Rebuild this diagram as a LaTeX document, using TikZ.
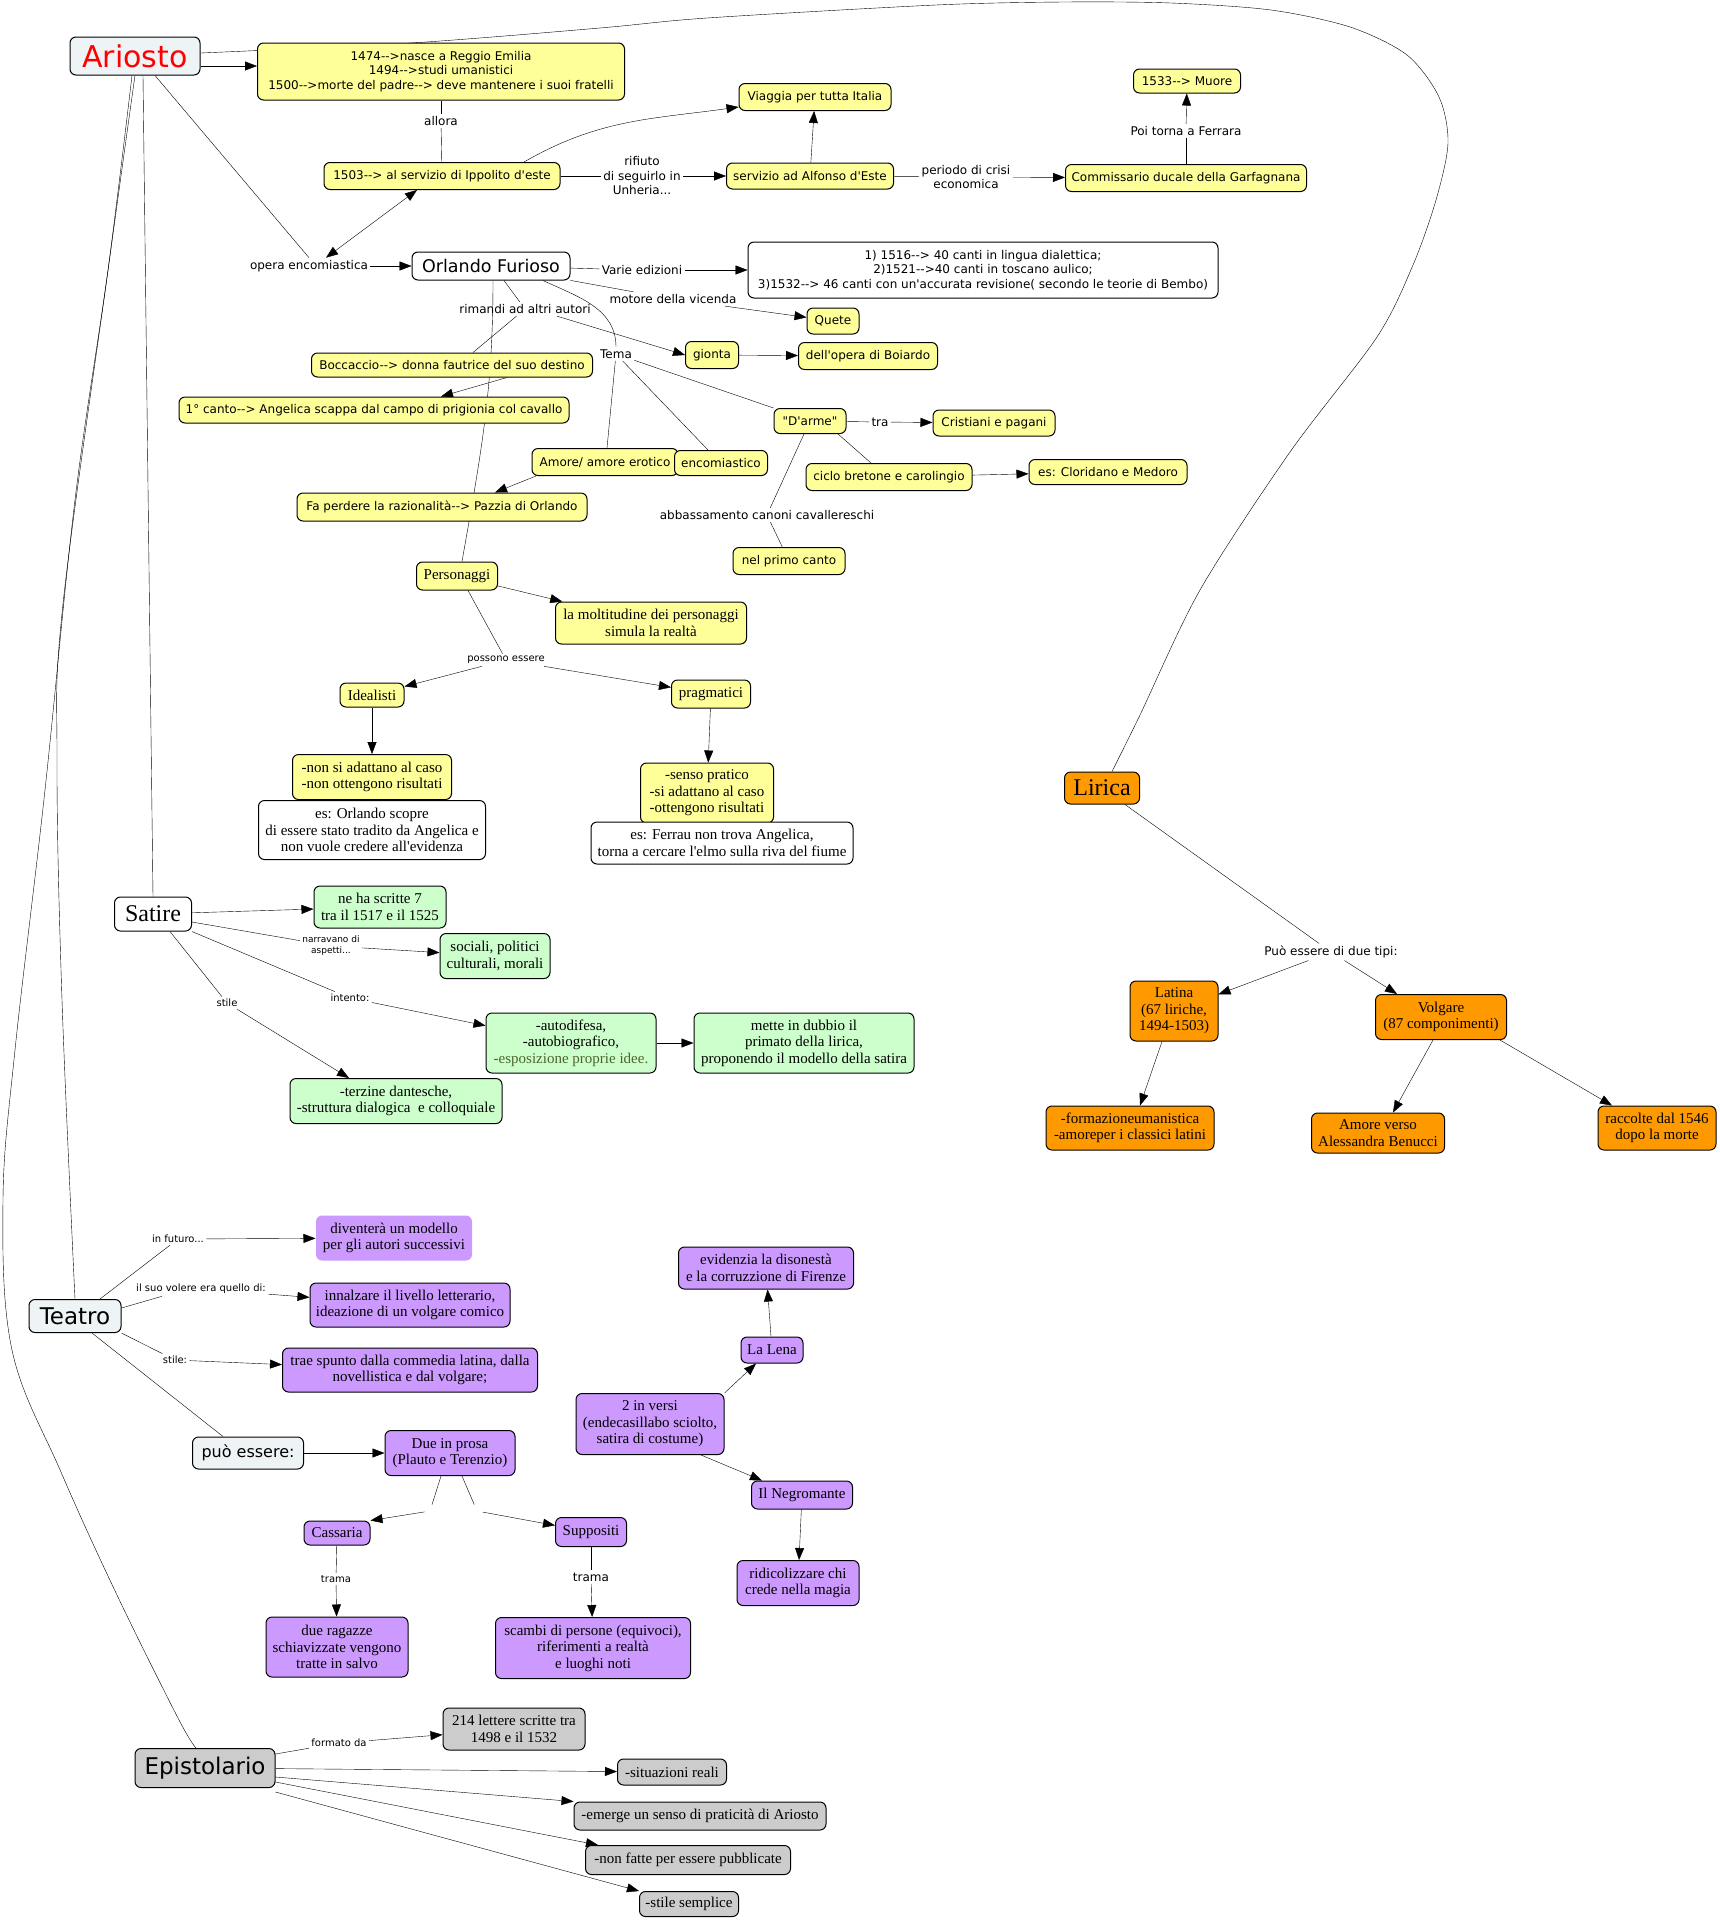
\documentclass[tikz,border=0pt]{standalone}
\usepackage{fontspec}
\setmainfont{Liberation Serif}[Ligatures=TeXOff]
\setsansfont{DejaVu Sans}[Ligatures=TeXOff]
\usetikzlibrary{arrows.meta,backgrounds}

\definecolor{cGiallo}{RGB}{255,255,153}
\definecolor{cVerde}{RGB}{204,255,204}
\definecolor{cArancio}{RGB}{255,153,0}
\definecolor{cViola}{RGB}{204,153,255}
\definecolor{cGrigio}{RGB}{204,204,204}
\definecolor{cChiaro}{RGB}{238,243,246}
\definecolor{cOliva}{RGB}{80,100,45}

\tikzset{
  concetto/.style={draw, rounded corners=6pt, align=center, inner xsep=4pt, inner ysep=2pt},
  giallo/.style={concetto, fill=cGiallo, font=\sffamily\fontsize{12}{14.5}\selectfont},
  giallos/.style={concetto, fill=cGiallo, font=\fontsize{15}{16.5}\selectfont},
  bianco/.style={concetto, fill=white, font=\sffamily\fontsize{12}{14.5}\selectfont},
  biancos/.style={concetto, fill=white, font=\fontsize{15}{16.5}\selectfont},
  verde/.style={concetto, fill=cVerde, font=\fontsize{15}{16.5}\selectfont},
  arancio/.style={concetto, fill=cArancio, font=\fontsize{15}{16.5}\selectfont},
  viola/.style={concetto, fill=cViola, font=\fontsize{15}{16.5}\selectfont},
  grigio/.style={concetto, fill=cGrigio, font=\fontsize{15}{16.5}\selectfont},
  radice/.style={concetto, fill=cChiaro, font=\sffamily\fontsize{23}{26}\selectfont},
  etich/.style={font=\sffamily\fontsize{12}{14.5}\selectfont, align=center, inner sep=2pt},
  etichp/.style={font=\sffamily\fontsize{10}{12}\selectfont, align=center, inner sep=2pt},
  vuoto/.style={inner sep=0pt, minimum width=10, minimum height=12},
}

\begin{document}
\begin{tikzpicture}[x=1pt, y=-1pt, >={Triangle[length=12pt,width=9pt]}, line width=1pt]
    \begin{scope}[on background layer]
        \fill[white] (0,0) rectangle (1720,1923);
    \end{scope}
    \useasboundingbox (0,0) rectangle (1720,1923);

    % Ariosto e la sua vita
    \node[radice, font=\sffamily\fontsize{30}{34}\selectfont, text=red, minimum width=130, minimum height=38] (ariosto) at (135, 56) {Ariosto};
    \node[giallo, minimum width=367, minimum height=57] (bio) at (441, 71.5) {1474-->nasce a Reggio Emilia\\1494-->studi umanistici\\1500-->morte del padre--> deve mantenere i suoi fratelli};
    \node[etich] (allora) at (441, 121) {allora};
    \node[giallo, minimum width=236, minimum height=27] (p1503) at (442, 176) {1503--> al servizio di Ippolito d'este};
    \node[etich] (rifiuto) at (642, 176) {rifiuto\\di seguirlo in\\Unheria...};
    \node[giallo, minimum width=167, minimum height=26] (alfonso) at (810, 176) {servizio ad Alfonso d'Este};
    \node[giallo, minimum width=152, minimum height=27] (viaggia) at (815, 97) {Viaggia per tutta Italia};
    \node[etich] (crisi) at (966, 177) {periodo di crisi\\economica};
    \node[giallo, minimum width=241, minimum height=27] (garfagnana) at (1186, 178) {Commissario ducale della Garfagnana};
    \node[etich] (ferrara) at (1186, 131) {Poi torna a Ferrara};
    \node[giallo, minimum width=107, minimum height=24] (muore) at (1187, 81) {1533--> Muore};

    % Orlando Furioso
    \node[etich] (operaenc) at (309, 266) {opera encomiastica};
    \node[bianco, font=\sffamily\fontsize{17.5}{20}\selectfont, minimum width=158, minimum height=28] (orlando) at (491, 266) {Orlando Furioso};
    \node[etich] (varie) at (642, 270) {Varie edizioni};
    \node[bianco, minimum width=470, minimum height=56] (edizioni) at (983, 270) {1) 1516--> 40 canti in lingua dialettica;\\2)1521-->40 canti in toscano aulico;\\3)1532--> 46 canti con un'accurata revisione( secondo le teorie di Bembo)};
    \node[etich] (motore) at (673, 299) {motore della vicenda};
    \node[giallo, minimum width=52, minimum height=26] (quete) at (833, 321) {Quete};
    \node[etich] (rimandi) at (525, 309) {rimandi ad altri autori};
    \node[giallo, minimum width=281, minimum height=24] (boccaccio) at (452, 365) {Boccaccio--> donna fautrice del suo destino};
    \node[giallo, minimum width=390, minimum height=26] (canto) at (374, 410) {1° canto--> Angelica scappa dal campo di prigionia col cavallo};
    \node[giallo, minimum width=53, minimum height=27] (gionta) at (712, 355) {gionta};
    \node[giallo, minimum width=139, minimum height=27] (boiardo) at (868, 356) {dell'opera di Boiardo};
    \node[etich] (tema) at (616, 354) {Tema};
    \node[giallo, minimum width=72, minimum height=25] (darme) at (810, 421) {"D'arme"};
    \node[etich] (tra) at (880, 422) {tra};
    \node[giallo, minimum width=122, minimum height=26] (cristiani) at (994, 423) {Cristiani e pagani};
    \node[giallo, minimum width=166, minimum height=27] (ciclo) at (889, 477) {ciclo bretone e carolingio};
    \node[giallo, minimum width=158, minimum height=25] (cloridano) at (1108, 472) {es: Cloridano e Medoro};
    \node[etich] (abbassamento) at (767, 515) {abbassamento canoni cavallereschi};
    \node[giallo, minimum width=112, minimum height=27] (primocanto) at (789, 561) {nel primo canto};
    \node[giallo, minimum width=146, minimum height=27] (amore) at (605, 462) {Amore/ amore erotico};
    \node[giallo, minimum width=93, minimum height=25] (encomiastico) at (721, 463) {encomiastico};
    \node[giallo, minimum width=290, minimum height=28] (pazzia) at (442, 507) {Fa perdere la razionalità--> Pazzia di Orlando};

    % Personaggi
    \node[giallos, minimum width=81, minimum height=28] (personaggi) at (457, 576) {Personaggi};
    \node[giallos, minimum width=191, minimum height=42] (moltitudine) at (651, 623) {la moltitudine dei personaggi\\simula la realtà};
    \node[etichp] (possono) at (506, 660) {possono essere};
    \node[giallos, minimum width=64, minimum height=24] (idealisti) at (372, 695) {Idealisti};
    \node[giallos, minimum width=79, minimum height=28] (pragmatici) at (711, 694) {pragmatici};
    \node[giallos, minimum width=159, minimum height=45] (nonadattano) at (372, 777) {-non si adattano al caso\\-non ottengono risultati};
    \node[biancos, minimum width=227, minimum height=59] (esorlando) at (372, 830) {es: Orlando scopre\\di essere stato tradito da Angelica e\\non vuole credere all'evidenza};
    \node[giallos, minimum width=133, minimum height=60] (senso) at (707, 793) {-senso pratico\\-si adattano al caso\\-ottengono risultati};
    \node[biancos, minimum width=262, minimum height=42] (esferrau) at (722, 843) {es: Ferrau non trova Angelica,\\torna a cercare l'elmo sulla riva del fiume};

    % Satire
    \node[biancos, font=\fontsize{24}{27}\selectfont, minimum width=77, minimum height=34] (satire) at (153, 914) {Satire};
    \node[verde, minimum width=132, minimum height=42] (scritte) at (380, 907) {ne ha scritte 7\\tra il 1517 e il 1525};
    \node[etichp, font=\sffamily\fontsize{9}{11}\selectfont] (narravano) at (331, 946) {narravano di\\aspetti...};
    \node[verde, minimum width=110, minimum height=45] (sociali) at (495, 956) {sociali, politici\\culturali, morali};
    \node[etichp] (intento) at (350, 998) {intento:};
    \node[verde, minimum width=170, minimum height=60] (autodifesa) at (571, 1043) {-autodifesa,\\-autobiografico,\\\textcolor{cOliva}{-esposizione proprie idee.}};
    \node[verde, minimum width=220, minimum height=60] (dubbio) at (804, 1043) {mette in dubbio il\\primato della lirica,\\proponendo il modello della satira};
    \node[etichp] (stile) at (227, 1003) {stile};
    \node[verde, minimum width=212, minimum height=45] (terzine) at (396, 1101) {-terzine dantesche,\\-struttura dialogica\ \ e colloquiale};

    % Lirica
    \node[arancio, font=\fontsize{24}{27}\selectfont, minimum width=75, minimum height=32] (lirica) at (1102, 788) {Lirica};
    \node[etich] (duetipi) at (1331, 952) {Può essere di due tipi:};
    \node[arancio, minimum width=88, minimum height=60] (latina) at (1174, 1011) {Latina\\(67 liriche,\\1494-1503)};
    \node[arancio, minimum width=131, minimum height=45] (volgare) at (1441, 1017) {Volgare\\(87 componimenti)};
    \node[arancio, minimum width=168, minimum height=44] (formazione) at (1130, 1128) {-formazioneumanistica\\-amoreper i classici latini};
    \node[arancio, minimum width=133, minimum height=40] (amoreverso) at (1378, 1133) {Amore verso\\Alessandra Benucci};
    \node[arancio, minimum width=118, minimum height=44] (raccolte) at (1657, 1128) {raccolte dal 1546\\dopo la morte};

    % Teatro
    \node[radice, minimum width=92, minimum height=33] (teatro) at (75, 1316) {Teatro};
    \node[etichp] (futuro) at (178, 1239) {in futuro...};
    \node[viola, draw=none, minimum width=156, minimum height=45] (modello) at (394, 1238) {diventerà un modello\\per gli autori successivi};
    \node[etichp] (volere) at (201, 1289) {il suo volere era quello di:};
    \node[viola, minimum width=200, minimum height=44] (innalzare) at (410, 1305) {innalzare il livello letterario,\\ideazione di un volgare comico};
    \node[etichp] (stileteatro) at (175, 1360) {stile:};
    \node[viola, minimum width=255, minimum height=44] (spunto) at (410, 1370) {trae spunto dalla commedia latina, dalla\\novellistica e dal volgare;};
    \node[radice, font=\sffamily\fontsize{16}{19}\selectfont, minimum width=111, minimum height=32] (puoessere) at (248, 1453) {può essere:};
    \node[viola, minimum width=130, minimum height=45] (prosa) at (450, 1453) {Due in prosa\\(Plauto e Terenzio)};
    \node[vuoto] (vuotoS) at (430, 1511) {};
    \node[vuoto] (vuotoD) at (477, 1511) {};
    \node[viola, minimum width=66, minimum height=24] (cassaria) at (337, 1533) {Cassaria};
    \node[viola, minimum width=71, minimum height=29] (suppositi) at (591, 1532) {Suppositi};
    \node[etichp] (tramaC) at (336, 1579) {trama};
    \node[etich] (tramaS) at (591, 1577) {trama};
    \node[viola, minimum width=142, minimum height=60] (ragazze) at (337, 1647) {due ragazze\\schiavizzate vengono\\tratte in salvo};
    \node[viola, minimum width=195, minimum height=61] (scambi) at (593, 1648) {scambi di persone (equivoci),\\riferimenti a realtà\\e luoghi noti};
    \node[viola, minimum width=148, minimum height=61] (versi) at (650, 1424) {2 in versi\\(endecasillabo sciolto,\\satira di costume)};
    \node[viola, minimum width=62, minimum height=26] (lena) at (772, 1350) {La Lena};
    \node[viola, minimum width=175, minimum height=42] (evidenzia) at (766, 1268) {evidenzia la disonestà\\e la corruzzione di Firenze};
    \node[viola, minimum width=101, minimum height=28] (negromante) at (802, 1495) {Il Negromante};
    \node[viola, minimum width=122, minimum height=45] (ridicolizzare) at (798, 1583) {ridicolizzare chi\\crede nella magia};

    % Epistolario
    \node[radice, fill=cGrigio, minimum width=140, minimum height=39] (epistolario) at (205, 1768) {Epistolario};
    \node[etichp] (formato) at (339, 1743) {formato da};
    \node[grigio, minimum width=142, minimum height=42] (lettere) at (514, 1729) {214 lettere scritte tra\\1498 e il 1532};
    \node[grigio, minimum width=109, minimum height=26] (situazioni) at (672, 1772) {-situazioni reali};
    \node[grigio, minimum width=252, minimum height=28] (emerge) at (700, 1816) {-emerge un senso di praticità di Ariosto};
    \node[grigio, minimum width=205, minimum height=29] (nonfatte) at (688, 1860) {-non fatte per essere pubblicate};
    \node[grigio, minimum width=99, minimum height=25] (semplice) at (689, 1904) {-stile semplice};

    % collegamenti (sotto i riquadri)
    \begin{scope}[on background layer]
        \coordinate (lirA) at ([yshift=3pt]ariosto.east);
        \coordinate (lirB) at ([xshift=10pt]lirica.north);
        \coordinate (epiA) at ([xshift=-3pt]ariosto.south);
        \coordinate (epiB) at ([xshift=-9pt]epistolario.north);
        \draw plot[smooth, tension=0.5] coordinates {(lirA) (411,43) (600,28) (707,18) (936,5) (1064,2) (1171,3) (1271,10) (1350,27) (1407,55) (1439,97) (1448,143) (1436,200) (1413,265) (1377,337) (1290,452) (1200,590) (1140,715) (lirB)};
        \draw plot[smooth, tension=0.6] coordinates {(ariosto.south) (110,256) (63,604) (57,760) (62,1000) (teatro.north)};
        \draw plot[smooth, tension=0.6] coordinates {(epiA) (108,270) (75,500) (45,790) (15,1050) (3,1200) (12,1350) (61,1472) (117,1595) (178,1718) (epiB)};
        \draw ([xshift=8pt]ariosto.south) -- (satire.north);
        \draw[->] ([yshift=-10pt]ariosto.east) -- ([yshift=5.5pt]bio.west);
        \draw ([xshift=20pt]ariosto.south) -- (operaenc.north);
        \draw[->] (operaenc) -- (orlando);
        \draw[<->] ([xshift=-25pt]p1503.south) -- ([xshift=17pt]operaenc.north);

        % vita
        \draw (bio) -- (allora);
        \draw (allora) -- (p1503);
        \draw (p1503) -- (rifiuto);
        \draw[->] (rifiuto) -- (alfonso);
        \draw[->] ([xshift=82pt]p1503.north) to[out=30, in=188] ([yshift=-10pt]viaggia.west);
        \draw[->] (alfonso) -- (viaggia);
        \draw (alfonso) -- (crisi);
        \draw[->] (crisi) -- (garfagnana);
        \draw (garfagnana) -- (ferrara);
        \draw[->] (ferrara) -- (muore);

        % Orlando Furioso
        \draw (orlando) -- (varie);
        \draw[->] (varie) -- (edizioni);
        \draw (orlando) -- (motore);
        \draw[->] (motore) -- (quete);
        \draw ([xshift=13pt]orlando.south) -- (rimandi);
        \draw (rimandi) -- ([xshift=21pt]boccaccio.north);
        \draw[->] ([xshift=32pt]rimandi.south) -- (gionta.west);
        \draw[->] (gionta) -- (boiardo);
        \draw[->] ([xshift=55pt]boccaccio.south) -- ([xshift=67pt]canto.north);
        \draw ([xshift=2pt]orlando.south) to[out=-90, in=80] ([xshift=5pt]personaggi.north);
        \draw ([xshift=52pt]orlando.south) to[out=-25, in=90] (tema);
        \draw (tema) -- ([xshift=2pt]amore.north);
        \draw (tema) -- ([xshift=-13pt]encomiastico.north);
        \draw (tema) -- (darme.north west);
        \draw[->] ([xshift=-69pt]amore.south) -- ([xshift=53pt]pazzia.north);
        \draw (darme) -- (tra);
        \draw[->] (tra) -- (cristiani);
        \draw ([xshift=28pt]darme.south) -- ([xshift=-18pt]ciclo.north);
        \draw[->] (ciclo) -- (cloridano);
        \draw ([xshift=-6pt]darme.south) -- (abbassamento);
        \draw (abbassamento) -- (primocanto);

        % Personaggi
        \draw[->] (personaggi) -- (moltitudine);
        \draw ([xshift=11pt]personaggi.south) -- (possono);
        \draw[->] (possono) -- (idealisti);
        \draw[->] (possono) -- (pragmatici);
        \draw[->] (idealisti) -- (nonadattano);
        \draw[->] (pragmatici) -- (senso);

        % Satire
        \draw[->] (satire) -- (scritte);
        \draw ([yshift=-8pt]satire.east) -- (narravano);
        \draw[->] (narravano) -- (sociali);
        \draw (satire.south east) -- (intento);
        \draw[->] (intento) -- (autodifesa);
        \draw[->] (autodifesa) -- (dubbio);
        \draw ([xshift=17pt]satire.south) -- (stile);
        \draw[->] (stile) -- ([xshift=-47pt]terzine.north);

        % Lirica
        \draw (lirica) -- (duetipi);
        \draw[->] (duetipi) -- (latina);
        \draw[->] (duetipi) -- ([xshift=-44pt]volgare.north);
        \draw[->] ([xshift=-12pt]latina.south) -- ([xshift=10pt]formazione.north);
        \draw[->] ([xshift=-8pt]volgare.south) -- ([xshift=15pt]amoreverso.north);
        \draw[->] ([xshift=59pt]volgare.south) -- ([xshift=-45pt]raccolte.north);

        % Teatro
        \draw ([xshift=25pt]teatro.north) -- (futuro);
        \draw[->] (futuro) -- (modello);
        \draw ([yshift=8pt]teatro.east) -- ([xshift=28pt]volere.south west);
        \draw[->] (volere) -- (innalzare);
        \draw (teatro.south east) -- (stileteatro);
        \draw[->] (stileteatro) -- (spunto);
        \draw ([xshift=17pt]teatro.south) -- ([xshift=-25pt]puoessere.north);
        \draw[->] (puoessere) -- (prosa);
        \draw ([xshift=-9pt]prosa.south) -- (vuotoS);
        \draw[->] (vuotoS) -- (cassaria.north east);
        \draw ([xshift=12pt]prosa.south) -- (vuotoD);
        \draw[->] (vuotoD) -- (suppositi);
        \draw (cassaria) -- (tramaC);
        \draw[->] (tramaC) -- (ragazze);
        \draw (suppositi) -- (tramaS);
        \draw[->] (tramaS) -- (scambi);
        \draw[->] (versi.north east) -- ([xshift=-16pt]lena.south);
        \draw[->] (lena) -- (evidenzia);
        \draw[->] ([xshift=51pt]versi.south) -- ([xshift=-40pt]negromante.north);
        \draw[->] (negromante) -- (ridicolizzare);

        % Epistolario
        \draw ([yshift=14pt]epistolario.east) -- (formato);
        \draw[->] (formato) -- (lettere);
        \draw[->] (epistolario) -- (situazioni);
        \draw[->] ([yshift=-9pt]epistolario.east) -- (emerge.north west);
        \draw[->] ([yshift=-14pt]epistolario.east) -- ([xshift=13pt]nonfatte.north west);
        \draw[->] ([yshift=-24pt]epistolario.east) -- (semplice.north west);
    \end{scope}
\end{tikzpicture}
\end{document}
